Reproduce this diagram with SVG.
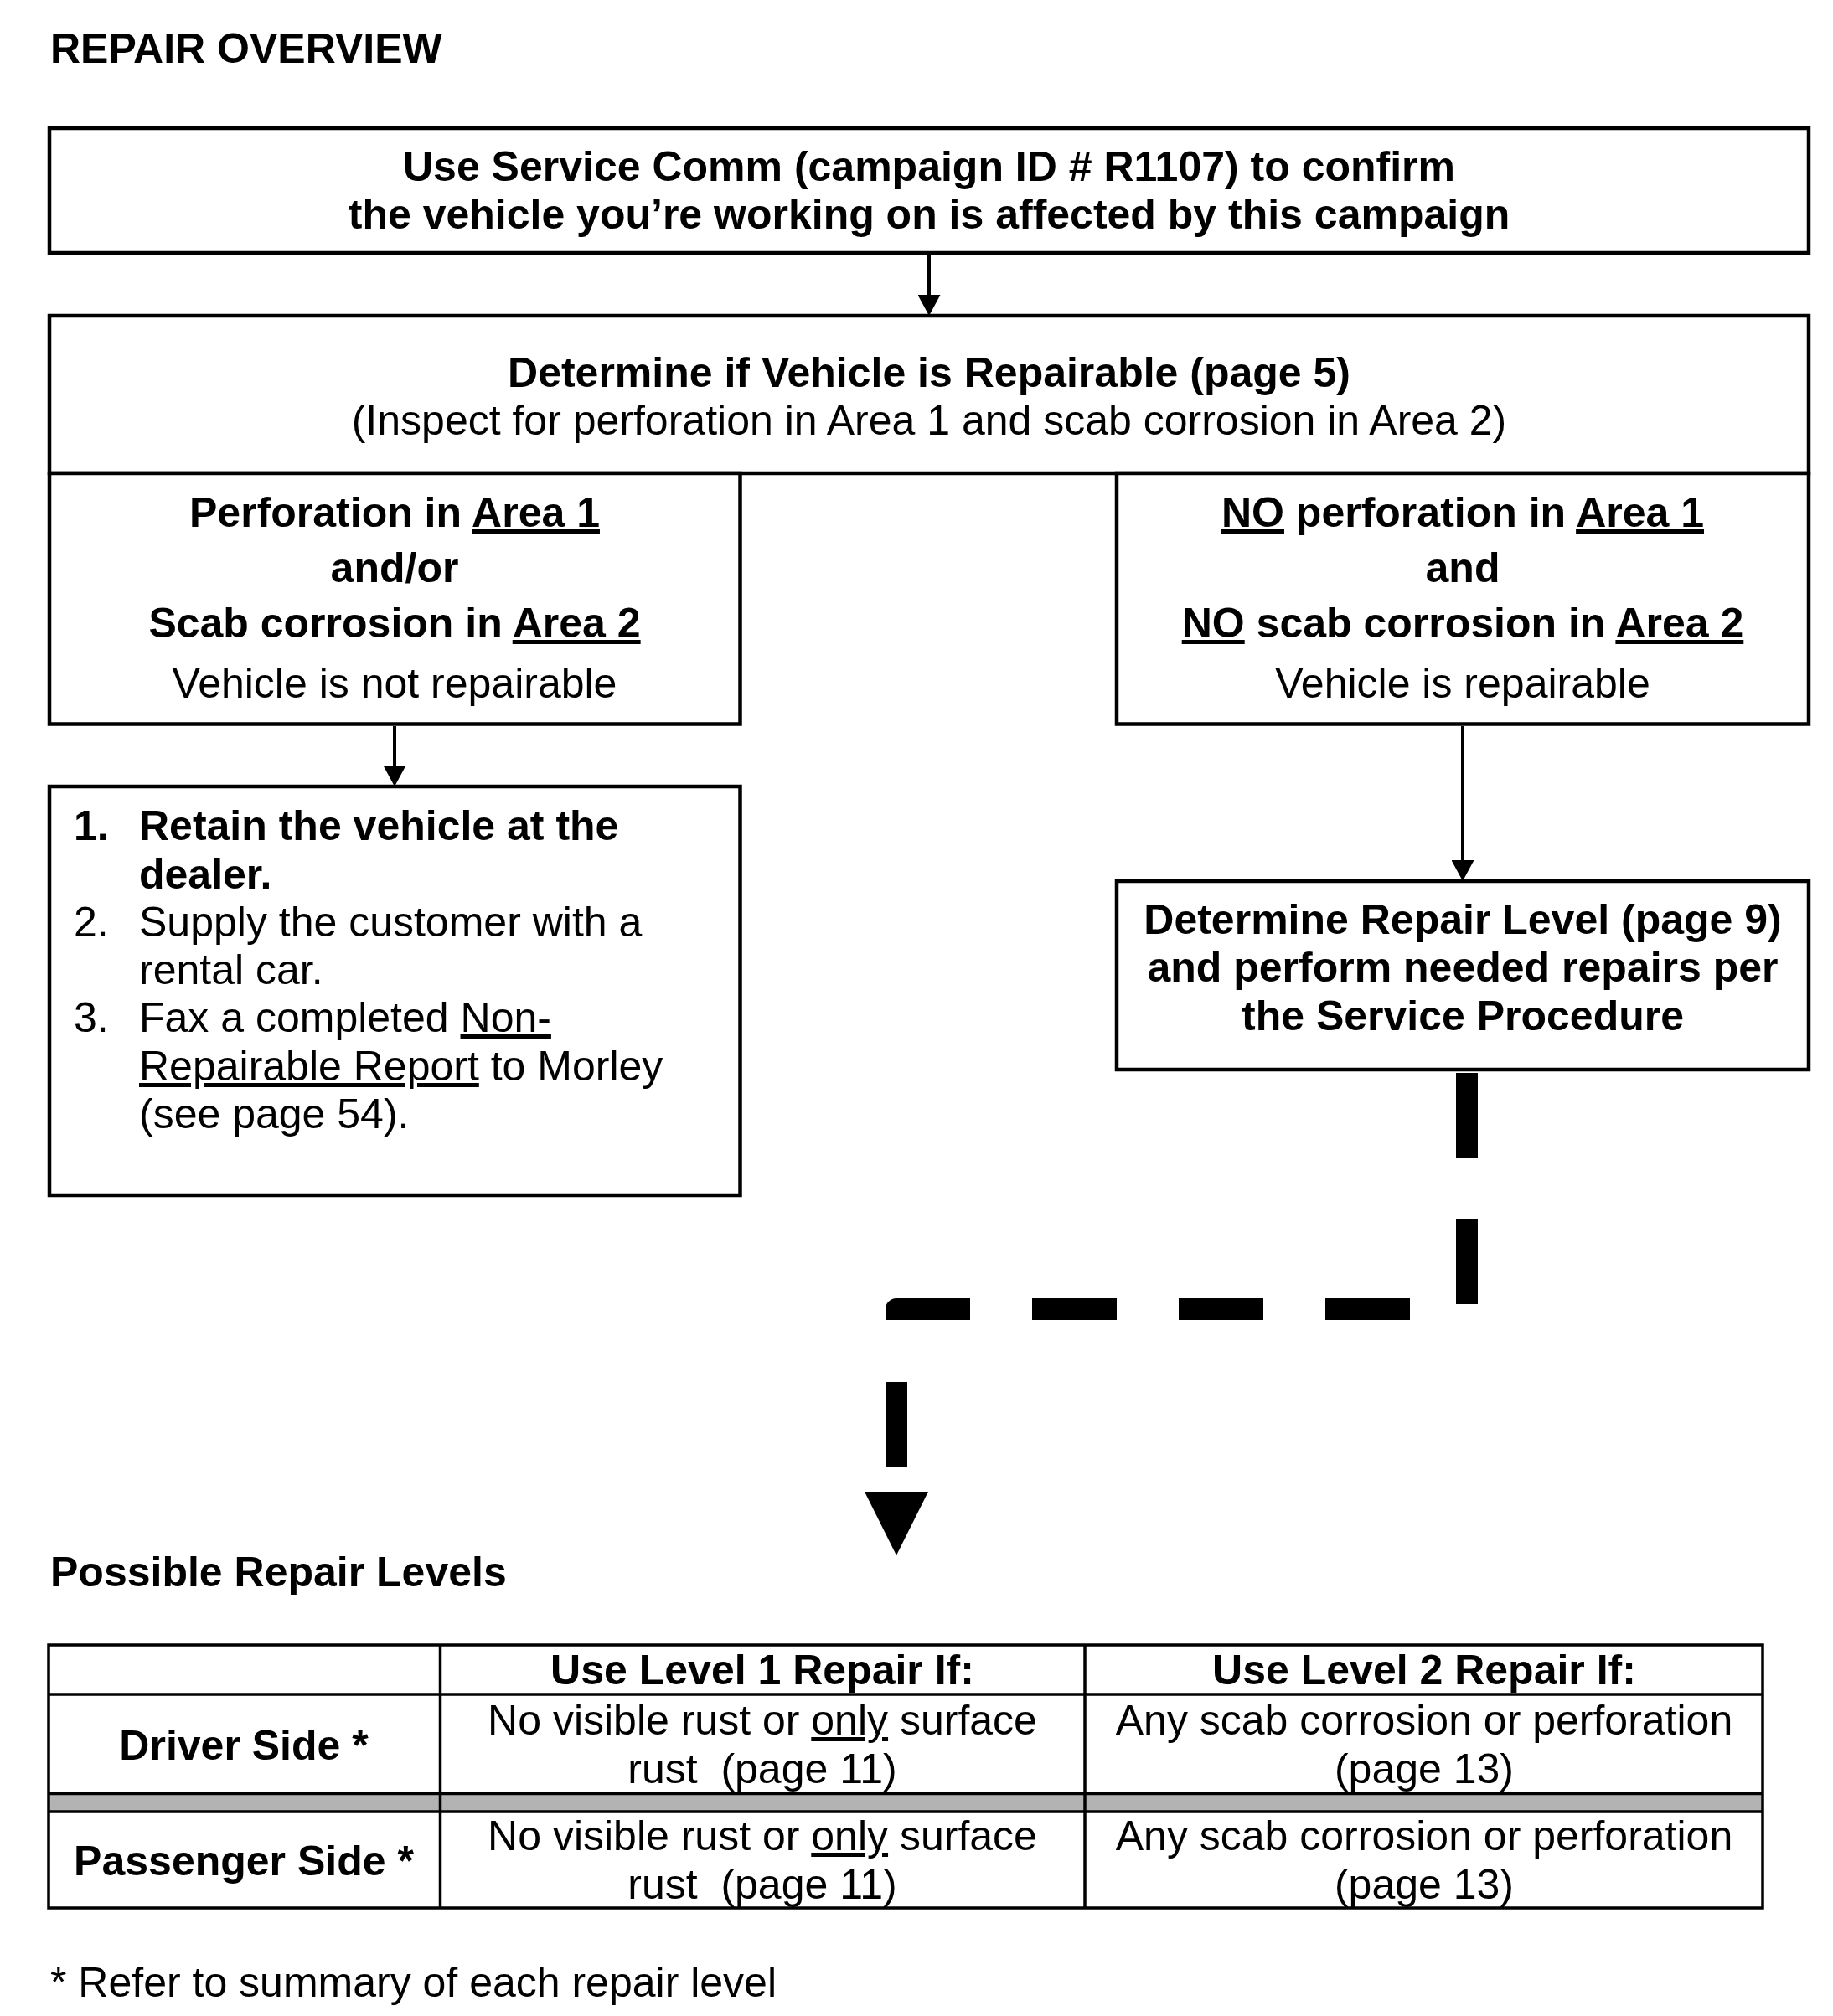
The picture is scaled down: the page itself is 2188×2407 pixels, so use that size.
<svg xmlns="http://www.w3.org/2000/svg" width="2188" height="2407" viewBox="0 0 2188 2407">
<style>
.b{font-family:"Liberation Sans",Arial,sans-serif;font-weight:bold;font-size:50px;fill:#000}
.r{font-family:"Liberation Sans",Arial,sans-serif;font-weight:normal;font-size:50px;fill:#000}
.m{text-anchor:middle}
.u{text-decoration:underline}
.box{fill:#fff;stroke:#000;stroke-width:4.5}
.tl{stroke:#000;stroke-width:3.5;fill:none}
.con{stroke:#000;stroke-width:4;fill:none}
.dash{stroke:#000;stroke-width:26;fill:none;stroke-dasharray:101 74;stroke-linejoin:round;stroke-linecap:butt}
</style>
<defs>
<marker id="arr" viewBox="0 0 25 27" markerWidth="25" markerHeight="27" markerUnits="userSpaceOnUse" refX="13" refY="13.5" orient="auto">
<path d="M0,0 L25,13.5 L0,27 Z" fill="#000"/>
</marker>
<marker id="big" viewBox="0 0 76 76" markerWidth="76" markerHeight="76" markerUnits="userSpaceOnUse" refX="0" refY="38" orient="auto">
<path d="M0,0 L76,38 L0,76 Z" fill="#000"/>
</marker>
</defs>
<rect width="2188" height="2407" fill="#fff"/>

<text id="title" class="b" x="60" y="75">REPAIR OVERVIEW</text>

<g id="node-confirm">
<rect class="box" x="59" y="153" width="2100" height="149"/>
<text class="b m" x="1109" y="216">Use Service Comm (campaign ID # R1107) to confirm</text>
<text class="b m" x="1109" y="273">the vehicle you’re working on is affected by this campaign</text>
</g>

<g id="node-determine">
<rect class="box" x="59" y="377" width="2100" height="188"/>
<text class="b m" x="1109" y="462">Determine if Vehicle is Repairable (page 5)</text>
<text class="r m" x="1109" y="519">(Inspect for perforation in Area 1 and scab corrosion in Area 2)</text>
</g>

<g id="node-not-repairable">
<rect class="box" x="59" y="565" width="824.5" height="299.5"/>
<text class="b m" x="471" y="629">Perforation in <tspan class="u">Area 1</tspan></text>
<text class="b m" x="471" y="695">and/or</text>
<text class="b m" x="471" y="761">Scab corrosion in <tspan class="u">Area 2</tspan></text>
<text class="r m" x="471" y="833">Vehicle is not repairable</text>
</g>

<g id="node-repairable">
<rect class="box" x="1333" y="565" width="826" height="299.5"/>
<text class="b m" x="1746" y="629"><tspan class="u">NO</tspan> perforation in <tspan class="u">Area 1</tspan></text>
<text class="b m" x="1746" y="695">and</text>
<text class="b m" x="1746" y="761"><tspan class="u">NO</tspan> scab corrosion in <tspan class="u">Area 2</tspan></text>
<text class="r m" x="1746" y="833">Vehicle is repairable</text>
</g>

<g id="node-retain">
<rect class="box" x="59" y="939" width="824.5" height="488"/>
<text class="b" x="88" y="1003">1.</text>
<text class="b" x="166" y="1003">Retain the vehicle at the</text>
<text class="b" x="166" y="1061">dealer.</text>
<text class="r" x="88" y="1118">2.</text>
<text class="r" x="166" y="1118">Supply the customer with a</text>
<text class="r" x="166" y="1175">rental car.</text>
<text class="r" x="88" y="1232">3.</text>
<text class="r" x="166" y="1232">Fax a completed <tspan class="u">Non-</tspan></text>
<text class="r" x="166" y="1290"><tspan class="u">Repairable Report</tspan> to Morley</text>
<text class="r" x="166" y="1347">(see page 54).</text>
</g>

<g id="node-repair-level">
<rect class="box" x="1333" y="1052" width="826" height="225"/>
<text class="b m" x="1746" y="1115">Determine Repair Level (page 9)</text>
<text class="b m" x="1746" y="1172">and perform needed repairs per</text>
<text class="b m" x="1746" y="1230">the Service Procedure</text>
</g>

<g id="connectors">
<path class="con" d="M1109,305 V365" marker-end="url(#arr)"/>
<path class="con" d="M471,867 V927" marker-end="url(#arr)"/>
<path class="con" d="M1746,867 V1040" marker-end="url(#arr)"/>
<path class="dash" d="M1751,1281 V1563 H1070 V1781" marker-end="url(#big)"/>
</g>

<text id="levels-title" class="b" x="60" y="1894">Possible Repair Levels</text>

<g id="table">
<rect x="58" y="2141.5" width="2046" height="21.5" fill="#b3b3b3"/>
<rect class="tl" x="58" y="1964" width="2046" height="314"/>
<line class="tl" x1="525.5" y1="1964" x2="525.5" y2="2278"/>
<line class="tl" x1="1295" y1="1964" x2="1295" y2="2278"/>
<line class="tl" x1="58" y1="2023" x2="2104" y2="2023"/>
<line class="tl" x1="58" y1="2141.5" x2="2104" y2="2141.5"/>
<line class="tl" x1="58" y1="2163" x2="2104" y2="2163"/>
<text class="b m" x="910" y="2011">Use Level 1 Repair If:</text>
<text class="b m" x="1700" y="2011">Use Level 2 Repair If:</text>
<text class="b m" x="291" y="2101">Driver Side *</text>
<text class="r m" x="910" y="2071">No visible rust or <tspan class="u">only</tspan> surface</text>
<text class="r m" x="910" y="2129" xml:space="preserve">rust  (page 11)</text>
<text class="r m" x="1700" y="2071">Any scab corrosion or perforation</text>
<text class="r m" x="1700" y="2129">(page 13)</text>
<text class="b m" x="291" y="2239">Passenger Side *</text>
<text class="r m" x="910" y="2209">No visible rust or <tspan class="u">only</tspan> surface</text>
<text class="r m" x="910" y="2267" xml:space="preserve">rust  (page 11)</text>
<text class="r m" x="1700" y="2209">Any scab corrosion or perforation</text>
<text class="r m" x="1700" y="2267">(page 13)</text>
</g>

<text id="footnote" class="r" x="60" y="2384">* Refer to summary of each repair level</text>
</svg>
